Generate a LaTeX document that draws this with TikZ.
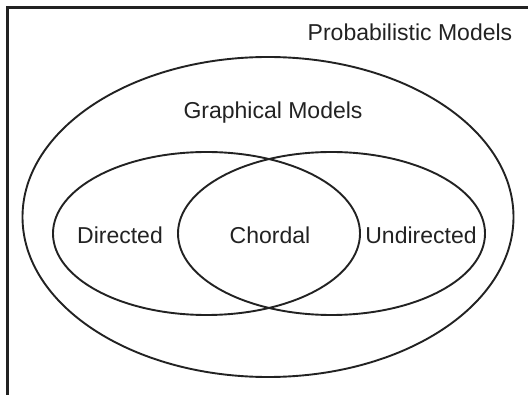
\documentclass[tikz,border=0pt]{standalone}
\usepackage{fontspec}
\setmainfont{Liberation Sans}
\definecolor{ink}{HTML}{222222}
\begin{document}
\begin{tikzpicture}[x=1pt,y=-1pt,
  lbl/.style={inner sep=0pt, text=ink, font=\fontsize{23}{27}\selectfont},
  ring/.style={draw=ink, line width=1.9pt}]
\useasboundingbox (0,0) rectangle (528,395);
% frame (top and left edges)
\draw[draw=ink, line width=2.6pt] (530,7.5) -- (7.5,7.5) -- (7.5,397);
% outer ellipse
\draw[ring] (268,217) ellipse [x radius=245.5, y radius=160];
% inner ellipses
\draw[ring] (206.5,233.5) ellipse [x radius=153.5, y radius=81.5];
\draw[ring] (331.5,233.5) ellipse [x radius=153.5, y radius=81.5];
% labels
\node[lbl] (prob) at (410,32) {Probabilistic Models};
\node[lbl] (graph) at (273,113) {Graphical Models};
\node[lbl] (dir) at (120,235) {Directed};
\node[lbl] (chord) at (270,235) {Chordal};
\node[lbl] (undir) at (421,235) {Undirected};
\end{tikzpicture}
\end{document}
